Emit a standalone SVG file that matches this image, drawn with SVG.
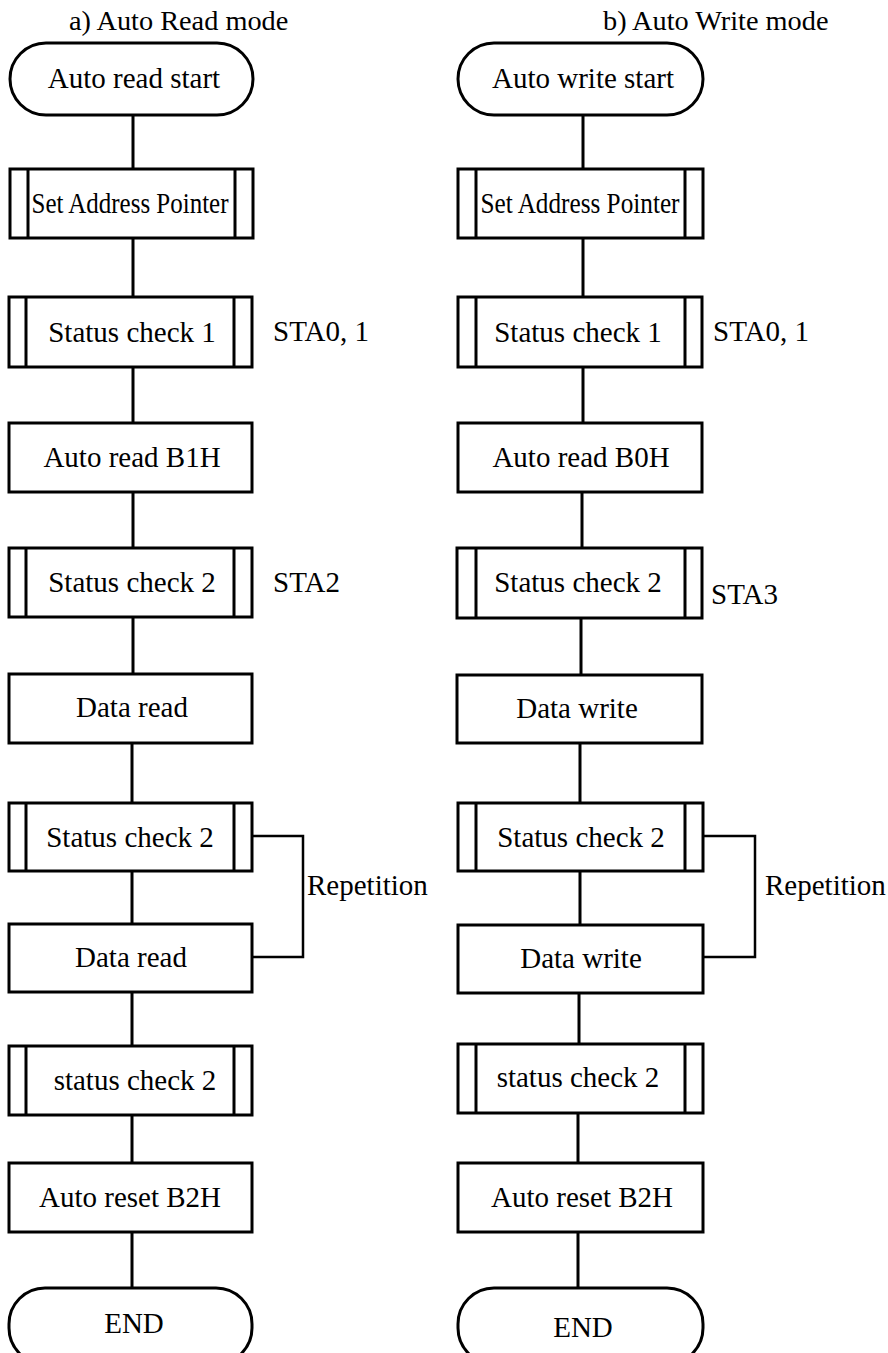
<svg xmlns="http://www.w3.org/2000/svg" width="888" height="1353" viewBox="0 0 888 1353">
<style>
.b{fill:#fff;stroke:#000;stroke-width:3}
.i{stroke:#000;stroke-width:3}
.c{fill:none;stroke:#000;stroke-width:3}
.r{fill:none;stroke:#000;stroke-width:2.5}
text{font-family:"Liberation Serif","Times New Roman",serif;font-size:29px;fill:#000}
.t{font-size:28.3px}
.m{text-anchor:middle}
</style>
<rect width="888" height="1353" fill="#fff"/>
<g id="connectors">
<path class="c" d="M133 115V169M133 238V297M133 367V423M133 492V548M133 617V674M132 743V803M132 871V924M132 992V1046M132 1115V1163M132 1232V1288"/>
<path class="c" d="M583 115V169M583 238V297M583 367V423M582 492V548M581 618V675M580 743V803M580 871V925M579 993V1044M578 1113V1163M578 1232V1288"/>
<path class="r" d="M252 836H303V957H252"/>
<path class="r" d="M703 836H755V957H703"/>
</g>
<text class="t" x="69" y="30">a) Auto Read mode</text>
<text class="t" x="603" y="30">b) Auto Write mode</text>
<g id="l-start"><rect class="b" x="10" y="43" width="243" height="72" rx="36"/><text class="m" x="134" y="88">Auto read start</text></g>
<g id="l-sap"><rect class="b" x="10" y="169" width="243" height="69"/><path class="i" d="M28 169V238M235 169V238"/><text class="m" x="130" y="213" textLength="197" lengthAdjust="spacingAndGlyphs">Set Address Pointer</text></g>
<g id="l-sc1"><rect class="b" x="9" y="297" width="243" height="70"/><path class="i" d="M26 297V367M234 297V367"/><text class="m" x="132" y="342">Status check 1</text></g>
<text x="273" y="341">STA0, 1</text>
<g id="l-ar"><rect class="b" x="9" y="423" width="243" height="69"/><text class="m" x="132" y="467">Auto read B1H</text></g>
<g id="l-sc2a"><rect class="b" x="9" y="548" width="243" height="69"/><path class="i" d="M26 548V617M234 548V617"/><text class="m" x="132" y="592">Status check 2</text></g>
<text x="273" y="592">STA2</text>
<g id="l-dr1"><rect class="b" x="9" y="674" width="243" height="69"/><text class="m" x="132" y="717">Data read</text></g>
<g id="l-sc2b"><rect class="b" x="9" y="803" width="243" height="68"/><path class="i" d="M26 803V871M234 803V871"/><text class="m" x="130" y="847">Status check 2</text></g>
<text x="307" y="895">Repetition</text>
<g id="l-dr2"><rect class="b" x="9" y="924" width="243" height="68"/><text class="m" x="131" y="967">Data read</text></g>
<g id="l-sc2c"><rect class="b" x="9" y="1046" width="243" height="69"/><path class="i" d="M26 1046V1115M234 1046V1115"/><text class="m" x="135" y="1090">status check 2</text></g>
<g id="l-reset"><rect class="b" x="9" y="1163" width="243" height="69"/><text class="m" x="130" y="1207">Auto reset B2H</text></g>
<g id="l-end"><rect class="b" x="9" y="1288" width="243" height="76" rx="36"/><text class="m" x="134" y="1333">END</text></g>

<g id="r-start"><rect class="b" x="458" y="43" width="245" height="72" rx="36"/><text class="m" x="583" y="88">Auto write start</text></g>
<g id="r-sap"><rect class="b" x="458" y="169" width="245" height="69"/><path class="i" d="M476 169V238M685 169V238"/><text class="m" x="580" y="213" textLength="199" lengthAdjust="spacingAndGlyphs">Set Address Pointer</text></g>
<g id="r-sc1"><rect class="b" x="458" y="297" width="244" height="70"/><path class="i" d="M476 297V367M685 297V367"/><text class="m" x="578" y="342">Status check 1</text></g>
<text x="713" y="341">STA0, 1</text>
<g id="r-ar"><rect class="b" x="458" y="423" width="244" height="69"/><text class="m" x="581" y="467">Auto read B0H</text></g>
<g id="r-sc2a"><rect class="b" x="457" y="548" width="245" height="70"/><path class="i" d="M476 548V618M685 548V618"/><text class="m" x="578" y="592">Status check 2</text></g>
<text x="711" y="604">STA3</text>
<g id="r-dw1"><rect class="b" x="457" y="675" width="245" height="68"/><text class="m" x="577" y="718">Data write</text></g>
<g id="r-sc2b"><rect class="b" x="458" y="803" width="245" height="68"/><path class="i" d="M476 803V871M685 803V871"/><text class="m" x="581" y="847">Status check 2</text></g>
<text x="765" y="895">Repetition</text>
<g id="r-dw2"><rect class="b" x="458" y="925" width="245" height="68"/><text class="m" x="581" y="968">Data write</text></g>
<g id="r-sc2c"><rect class="b" x="458" y="1044" width="245" height="69"/><path class="i" d="M476 1044V1113M685 1044V1113"/><text class="m" x="578" y="1087">status check 2</text></g>
<g id="r-reset"><rect class="b" x="458" y="1163" width="245" height="69"/><text class="m" x="582" y="1207">Auto reset B2H</text></g>
<g id="r-end"><rect class="b" x="458" y="1288" width="245" height="76" rx="36"/><text class="m" x="583" y="1337">END</text></g>
</svg>
